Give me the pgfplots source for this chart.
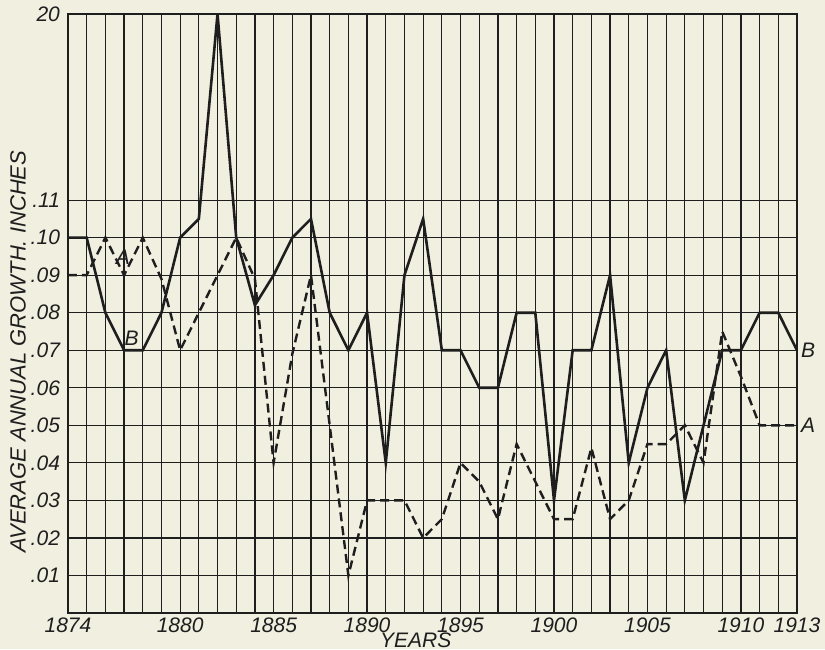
\documentclass[border=0pt]{standalone}
\usepackage{fontspec}
\setmainfont{Liberation Sans}
\usepackage{pgfplots}
\usepackage{pgfplotstable}
\pgfplotsset{compat=1.18}
\usetikzlibrary{backgrounds}
\definecolor{paper}{RGB}{241,239,224}
\definecolor{ink}{RGB}{30,30,30}

\pgfplotstableread{
year B A
1874 0.100 0.090
1875 0.100 0.090
1876 0.080 0.100
1877 0.070 0.090
1878 0.070 0.100
1879 0.080 0.089
1880 0.100 0.070
1881 0.105 0.080
1882 0.200 0.090
1883 0.100 0.100
1884 0.082 0.089
1885 0.090 0.040
1886 0.100 0.069
1887 0.105 0.090
1888 0.080 0.050
1889 0.070 0.010
1890 0.080 0.030
1891 0.040 0.030
1892 0.090 0.030
1893 0.105 0.020
1894 0.070 0.025
1895 0.070 0.040
1896 0.060 0.035
1897 0.060 0.025
1898 0.080 0.045
1899 0.080 0.035
1900 0.030 0.025
1901 0.070 0.025
1902 0.070 0.044
1903 0.090 0.025
1904 0.040 0.030
1905 0.060 0.045
1906 0.070 0.045
1907 0.030 0.050
1908 0.050 0.040
1909 0.070 0.075
1910 0.070 0.063
1911 0.080 0.050
1912 0.080 0.050
1913 0.070 0.050
}\growth

\begin{document}
\begin{tikzpicture}
\begin{axis}[
  scale only axis,
  width=364.5pt, height=299.5pt,
  xmin=1874, xmax=1913, ymin=0, ymax=0.2,
  y coord trafo/.code={\pgfmathparse{ifthenelse(#1>0.11, 0.11+(#1-0.11)*0.551, #1)}},
  y coord inv trafo/.code={\pgfmathparse{ifthenelse(#1>0.11, 0.11+(#1-0.11)/0.551, #1)}},
  xtick={1874,1880,1885,1890,1895,1900,1905,1910,1913},
  xticklabels={1874,1880,1885,1890,1895,1900,1905,1910,1913},
  minor xtick={1874,1875,...,1913},
  ytick={0.01,0.02,0.03,0.04,0.05,0.06,0.07,0.08,0.09,0.10,0.11,0.2},
  yticklabels={.01,.02,.03,.04,.05,.06,.07,.08,.09,.10,.11,20},
  xmajorgrids, xminorgrids, ymajorgrids,
  major grid style={ink, line width=0.6pt},
  minor grid style={ink, line width=0.6pt},
  axis line style={ink, line width=0.7pt},
  major tick length=0pt, minor tick length=0pt,
  tick style={draw=none},
  ticklabel style={font=\itshape\fontsize{10.5}{10.5}\selectfont, text=ink},
  yticklabel style={xshift=-0.5pt},
  xticklabel style={yshift=1pt},
  xlabel={YEARS},
  xlabel style={at={(axis description cs:0.477,-0.045)}, anchor=center, font=\itshape\fontsize{10.5}{10.5}\selectfont, text=ink},
  ylabel={AVERAGE ANNUAL GROWTH. INCHES},
  ylabel style={at={(axis description cs:-0.0686,0.436)}, anchor=center, font=\itshape\fontsize{11}{11}\selectfont, text=ink},
  clip=false,
]
\addplot[ink, line width=1.3pt, line join=miter] table[x=year, y=B] {\growth};
\addplot[ink, line width=1.2pt, dash pattern=on 4.5pt off 2.5pt] table[x=year, y=A] {\growth};
\node[font=\itshape\fontsize{10.5}{10.5}\selectfont, text=ink] at (axis cs:1876.94,0.0949) {A};
\node[font=\itshape\fontsize{10.5}{10.5}\selectfont, text=ink] at (axis cs:1877.4,0.0733) {B};
\node[font=\itshape\fontsize{10.5}{10.5}\selectfont, text=ink] at (axis cs:1913.6,0.07) {B};
\node[font=\itshape\fontsize{10.5}{10.5}\selectfont, text=ink] at (axis cs:1913.6,0.05) {A};
\coordinate (sw) at (rel axis cs:0,0);
\end{axis}
\pgfresetboundingbox
\begin{scope}[on background layer]
\fill[paper] (sw) ++(-34pt,-18pt) rectangle ++(412.5pt,324.5pt);
\end{scope}
\path (sw) ++(-34pt,-18pt) rectangle ++(412.5pt,324.5pt);
\end{tikzpicture}
\end{document}
